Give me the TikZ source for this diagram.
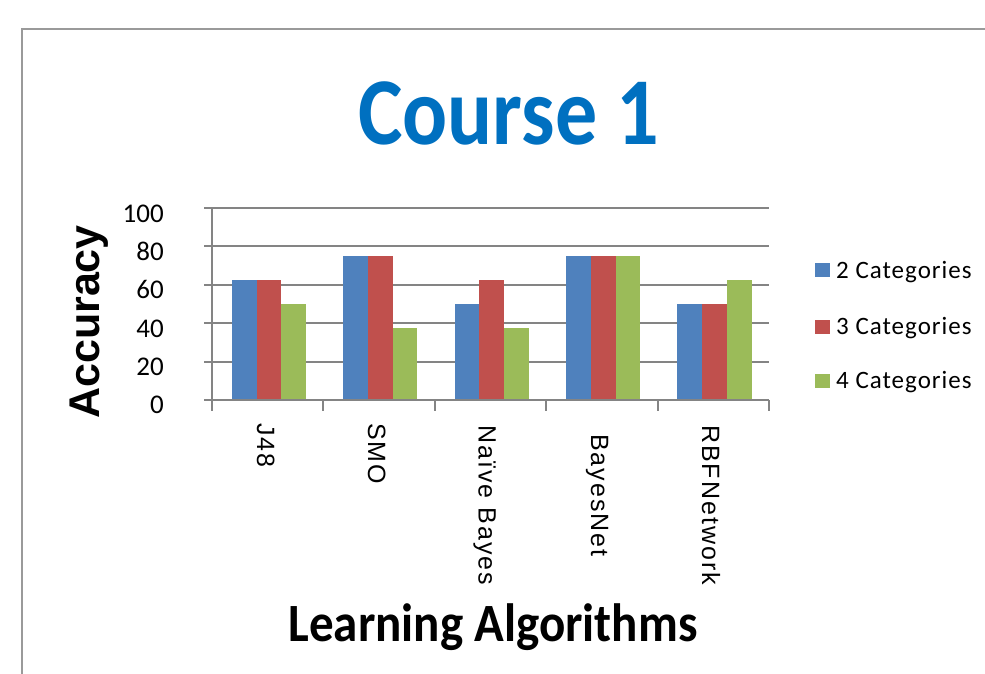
\documentclass[tikz,border=0pt]{standalone}
\usepackage{fontspec}
\setmainfont{Carlito}
\newfontfamily\arialfont{Liberation Sans}
\newfontfamily\catfont[LetterSpace=8]{Liberation Sans}
\newfontfamily\legfont[LetterSpace=4]{Carlito}
\usepackage{tikz}

\definecolor{barblue}{HTML}{4F81BD}
\definecolor{barred}{HTML}{C0504D}
\definecolor{bargreen}{HTML}{9BBB59}
\definecolor{titleblue}{HTML}{0070C0}
\definecolor{gridgray}{HTML}{848484}
\definecolor{framegray}{HTML}{9A9A9A}

\begin{document}
\begin{tikzpicture}[
        x=1pt, y=-1pt,
        gridline/.style={draw=gridgray, line width=2pt},
        ticklab/.style={anchor=base east, inner sep=0, font=\fontsize{27}{30}\selectfont}
        ]
    \useasboundingbox (0,0) rectangle (985,674);

    % Define styles
    \tikzstyle{catlab} = [rotate=-90, anchor=base west, inner sep=0, font=\catfont\fontsize{25}{28}\selectfont]
    \tikzstyle{legbox} = [rectangle, minimum width=15pt, minimum height=14pt, inner sep=0]
    \tikzstyle{legtext} = [anchor=base west, inner sep=0, font=\legfont\fontsize{25}{28}\selectfont]

    % Draw the frame
    \draw[framegray, line width=2.4pt] (985,29) -- (22,29) -- (22,674);

    % Define title nodes
    \node[anchor=base, inner sep=0, text=titleblue, font=\bfseries\fontsize{84}{90}\selectfont] (title) at (508.5,145) {\scalebox{1}[1.14]{Course 1}};
    \node[anchor=base, inner sep=0, font=\bfseries\fontsize{49}{54}\selectfont] (xtitle) at (493,641) {\scalebox{1}[1.1]{Learning Algorithms}};
    \node[rotate=90, inner sep=0, font=\arialfont\bfseries\fontsize{43}{48}\selectfont] (ytitle) at (89,322) {Accuracy};

    % Draw gridlines and y ticks
    \draw[gridline] (204,208) -- (769,208);
    \draw[gridline] (204,246.4) -- (769,246.4);
    \draw[gridline] (204,284.8) -- (769,284.8);
    \draw[gridline] (204,323.2) -- (769,323.2);
    \draw[gridline] (204,361.6) -- (769,361.6);

    % Define y tick labels
    \node[ticklab] (y100) at (164,222) {100};
    \node[ticklab] (y80) at (164,260.4) {80};
    \node[ticklab] (y60) at (164,298.8) {60};
    \node[ticklab] (y40) at (164,337.2) {40};
    \node[ticklab] (y20) at (164,375.6) {20};
    \node[ticklab] (y0) at (164,413) {0};

    % Draw the bars of J48
    \fill[barblue] (231.8,400) rectangle (256.55,280);
    \fill[barred] (256.55,400) rectangle (281.3,280);
    \fill[bargreen] (281.3,400) rectangle (306.05,304);

    % Draw the bars of SMO
    \fill[barblue] (343.2,400) rectangle (367.95,256);
    \fill[barred] (367.95,400) rectangle (392.7,256);
    \fill[bargreen] (392.7,400) rectangle (417.45,328);

    % Draw the bars of Naive Bayes
    \fill[barblue] (454.6,400) rectangle (479.35,304);
    \fill[barred] (479.35,400) rectangle (504.1,280);
    \fill[bargreen] (504.1,400) rectangle (528.85,328);

    % Draw the bars of BayesNet
    \fill[barblue] (566,400) rectangle (590.75,256);
    \fill[barred] (590.75,400) rectangle (615.5,256);
    \fill[bargreen] (615.5,400) rectangle (640.25,256);

    % Draw the bars of RBFNetwork
    \fill[barblue] (677.4,400) rectangle (702.15,304);
    \fill[barred] (702.15,400) rectangle (726.9,304);
    \fill[bargreen] (726.9,400) rectangle (751.65,280);

    % Draw the axes and x ticks
    \draw[gridline] (212,208) -- (212,400);
    \draw[gridline] (204,400) -- (769,400);
    \draw[gridline] (212,400) -- (212,411);
    \draw[gridline] (323.4,400) -- (323.4,411);
    \draw[gridline] (434.8,400) -- (434.8,411);
    \draw[gridline] (546.2,400) -- (546.2,411);
    \draw[gridline] (657.6,400) -- (657.6,411);
    \draw[gridline] (769,400) -- (769,411);

    % Define category labels
    \node[catlab] (J48) at (257,423) {J48};
    \node[catlab] (SMO) at (368,423) {SMO};
    \node[catlab] (NB) at (478.6,425) {Naïve Bayes};
    \node[catlab] (BN) at (591,434) {BayesNet};
    \node[catlab] (RBF) at (702,425) {RBFNetwork};

    % Define legend nodes
    \node[legbox, fill=barblue] (key2) at (822,270) {};
    \node[legbox, fill=barred] (key3) at (822,326.5) {};
    \node[legbox, fill=bargreen] (key4) at (822,380.5) {};
    \node[legtext] (leg2) at (836,278.3) {2 Categories};
    \node[legtext] (leg3) at (836,334.5) {3 Categories};
    \node[legtext] (leg4) at (836,388.5) {4 Categories};

\end{tikzpicture}
\end{document}
